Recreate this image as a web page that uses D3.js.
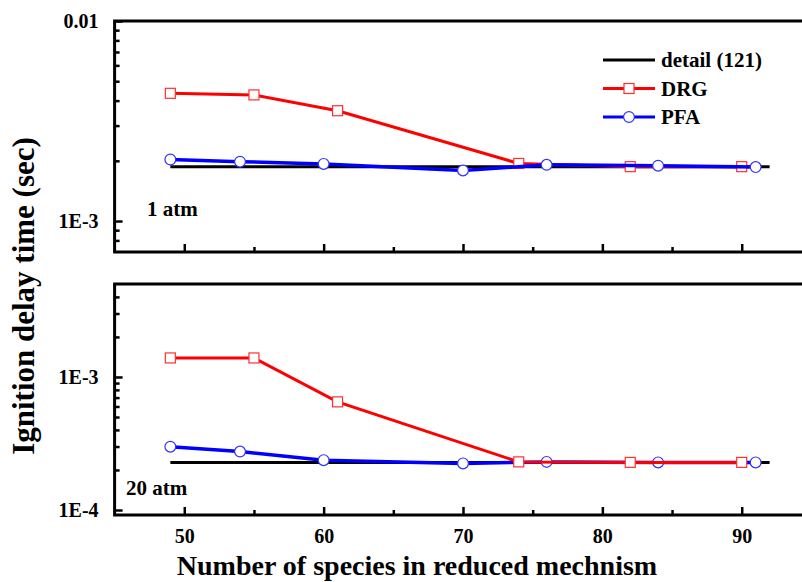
<!DOCTYPE html>
<html lang="en">
<head>
<meta charset="utf-8">
<script src="https://d3js.org/d3.v7.min.js"></script>
<style>
  body { margin: 0; background: #fff; }
  svg text { font-family: "Liberation Serif", "Times New Roman", serif; font-weight: bold; fill: #000; }
  .tick line { stroke: #000; stroke-width: 2.5px; }
  .tick text { font-size: 20px; }
  .frame { fill: none; stroke: #000; stroke-width: 3px; }
  .legend text { font-size: 21px; }
</style>
</head>
<body>
<div id="chart"></div>
<script>
// x = number of species in reduced mechanism
var drgSpecies = [49, 55, 61, 74, 82, 90];
var pfaSpecies = [49, 54, 60, 70, 76, 84, 91];
var detailSpan = [49, 92];

// ignition delay time (sec), 1 atm
var drg1atm = [4.35e-3, 4.27e-3, 3.56e-3, 1.94e-3, 1.87e-3, 1.87e-3];
var pfa1atm = [2.03e-3, 1.98e-3, 1.93e-3, 1.79e-3, 1.91e-3, 1.89e-3, 1.86e-3];
var detail1atm = 1.87e-3;

// ignition delay time (sec), 20 atm
var drg20atm = [1.39e-3, 1.39e-3, 6.5e-4, 2.30e-4, 2.28e-4, 2.28e-4];
var pfa20atm = [2.99e-4, 2.75e-4, 2.37e-4, 2.24e-4, 2.30e-4, 2.28e-4, 2.28e-4];
var detail20atm = 2.28e-4;

var xTicks = [50, 60, 70, 80, 90];
var xMinor = [55, 65, 75, 85];
var topTicks = [1e-3, 1e-2];
var topTickLabels = ["1E-3", "0.01"];
var botTicks = [1e-4, 1e-3];
var botTickLabels = ["1E-4", "1E-3"];

var FONT = "'Liberation Serif', 'Times New Roman', serif";
var W = 802, H = 582;
var svg = d3.select("#chart").append("svg")
    .attr("width", W)
    .attr("height", H)
    .attr("font-family", FONT);

var x = d3.scaleLinear().domain([45, 95]).range([114.6, 811.4]);

var panels = [
  { y: d3.scaleLog().domain([7e-4, 1e-2]).range([252, 21]),
    ticks: topTicks, labels: topTickLabels, label: "1 atm", lx: 147, ly: 216,
    drg: drg1atm, pfa: pfa1atm, detail: detail1atm, order: ["detail", "drg", "pfa"], showX: false },
  { y: d3.scaleLog().domain([9.17e-5, 5e-3]).range([515, 284]),
    ticks: botTicks, labels: botTickLabels, label: "20 atm", lx: 126, ly: 495,
    drg: drg20atm, pfa: pfa20atm, detail: detail20atm, order: ["detail", "pfa", "drg"], showX: true }
];

function minorTicks(y) {
  var d = y.domain(), out = [];
  var lo = Math.floor(Math.log10(d[0])), hi = Math.ceil(Math.log10(d[1]));
  for (var e = lo; e < hi; e++) {
    for (var m = 2; m <= 9; m++) {
      var v = m * Math.pow(10, e);
      if (v > d[0] && v < d[1]) out.push(v);
    }
  }
  return out;
}

panels.forEach(function(p) {
  var y = p.y;
  var g = svg.append("g");
  var y0 = y.range()[0], y1 = y.range()[1];

  // y axis major + minor (ticks point inward)
  g.append("g")
    .attr("transform", "translate(" + x.range()[0] + ",0)")
    .call(d3.axisLeft(y).tickValues(p.ticks).tickSize(-8).tickPadding(16)
      .tickFormat(function(d, i) { return p.labels[i]; }))
    .call(function(a) { a.select(".domain").remove(); });
  g.append("g")
    .attr("transform", "translate(" + x.range()[0] + ",0)")
    .call(d3.axisLeft(y).tickValues(minorTicks(y)).tickSize(-5).tickFormat(""))
    .call(function(a) { a.select(".domain").remove(); });

  // x axis major + minor
  g.append("g")
    .attr("transform", "translate(0," + y0 + ")")
    .call(d3.axisBottom(x).tickValues(xTicks).tickSize(-8).tickPadding(14)
      .tickFormat(p.showX ? d3.format("d") : ""))
    .call(function(a) { a.select(".domain").remove(); });
  g.append("g")
    .attr("transform", "translate(0," + y0 + ")")
    .call(d3.axisBottom(x).tickValues(xMinor).tickSize(-5).tickFormat(""))
    .call(function(a) { a.select(".domain").remove(); });

  g.append("rect").attr("class", "frame")
    .attr("x", x.range()[0]).attr("y", y1)
    .attr("width", x.range()[1] - x.range()[0])
    .attr("height", y0 - y1);

  var line = d3.line().x(function(d) { return x(d[0]); }).y(function(d) { return y(d[1]); });

  p.order.forEach(function(key) {
    if (key === "detail") {
      g.append("path")
        .datum(detailSpan.map(function(s) { return [s, p.detail]; }))
        .attr("d", line).attr("fill", "none")
        .attr("stroke", "#000").attr("stroke-width", 3);
    } else if (key === "drg") {
      var pts = drgSpecies.map(function(s, i) { return [s, p.drg[i]]; });
      g.append("path").datum(pts).attr("d", line).attr("fill", "none")
        .attr("stroke", "#ff0000").attr("stroke-width", 3);
      g.selectAll(null).data(pts).enter().append("rect")
        .attr("x", function(d) { return x(d[0]) - 5; })
        .attr("y", function(d) { return y(d[1]) - 5; })
        .attr("width", 10).attr("height", 10)
        .attr("fill", "#fff").attr("stroke", "#ff3030").attr("stroke-width", 1.2);
    } else {
      var pts2 = pfaSpecies.map(function(s, i) { return [s, p.pfa[i]]; });
      g.append("path").datum(pts2).attr("d", line).attr("fill", "none")
        .attr("stroke", "#0000ff").attr("stroke-width", 3.5);
      g.selectAll(null).data(pts2).enter().append("circle")
        .attr("cx", function(d) { return x(d[0]); })
        .attr("cy", function(d) { return y(d[1]); })
        .attr("r", 5.4)
        .attr("fill", "#fff").attr("stroke", "#3030ff").attr("stroke-width", 1.2);
    }
  });

  g.append("text").attr("x", p.lx).attr("y", p.ly)
    .style("font-size", "21px").text(p.label);
});

// legend
var legendItems = [
  { name: "detail (121)", color: "#000", marker: null },
  { name: "DRG", color: "#ff0000", marker: "square" },
  { name: "PFA", color: "#0000ff", marker: "circle" }
];
var legend = svg.selectAll(".legend").data(legendItems).enter().append("g")
  .attr("class", "legend")
  .attr("transform", function(d, i) { return "translate(603," + (60 + i * 28.5) + ")"; });
legend.append("line").attr("x1", 0).attr("x2", 52).attr("y1", 0).attr("y2", 0)
  .attr("stroke", function(d) { return d.color; }).attr("stroke-width", 3);
legend.filter(function(d) { return d.marker === "square"; }).append("rect")
  .attr("x", 21).attr("y", -5).attr("width", 10).attr("height", 10)
  .attr("fill", "#fff").attr("stroke", "#ff3030").attr("stroke-width", 1.2);
legend.filter(function(d) { return d.marker === "circle"; }).append("circle")
  .attr("cx", 26).attr("r", 5.4)
  .attr("fill", "#fff").attr("stroke", "#3030ff").attr("stroke-width", 1.2);
legend.append("text").attr("x", 58).attr("dy", "0.35em").text(function(d) { return d.name; });

// axis titles
svg.append("text")
  .attr("transform", "translate(34,296) rotate(-90)")
  .attr("text-anchor", "middle")
  .style("font-size", "31px")
  .text("Ignition delay time (sec)");
svg.append("text")
  .attr("x", 417).attr("y", 575)
  .attr("text-anchor", "middle")
  .style("font-size", "28px")
  .text("Number of species in reduced mechnism");

// make sure every text uses the serif face, including axis tick labels
svg.selectAll("text").style("font-family", FONT).style("font-weight", "bold");
</script>
</body>
</html>
